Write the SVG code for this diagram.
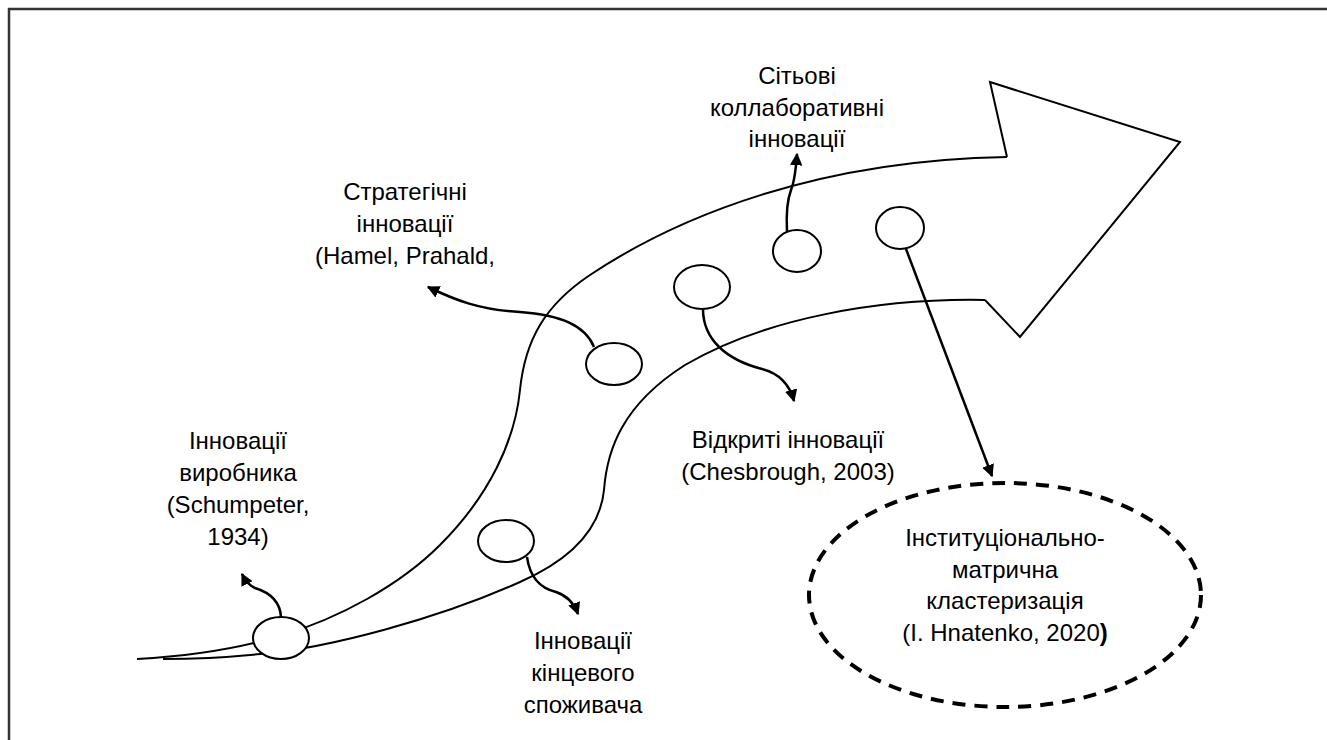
<svg xmlns="http://www.w3.org/2000/svg" width="1327" height="740" viewBox="0 0 1327 740">
<defs>
<marker id="ah" viewBox="0 0 10 10" refX="9" refY="5" markerWidth="5" markerHeight="5" orient="auto" markerUnits="strokeWidth">
<path d="M0,0 L10,5 L0,10 z" fill="#000"/>
</marker>
<style>
.t{font-family:"Liberation Sans",Arial,sans-serif;font-size:24px;fill:#000;text-anchor:middle}
.ln{fill:none;stroke:#000;stroke-width:2}
.cn{fill:none;stroke:#000;stroke-width:2.5;marker-end:url(#ah)}
.nd{fill:#fff;stroke:#000;stroke-width:2}
</style>
</defs>
<rect width="1327" height="740" fill="#fff"/>
<rect x="9" y="9" width="1330" height="745" fill="none" stroke="#333" stroke-width="2.5"/>
<g id="big-arrow">
<path class="ln" d="M137,659 C190,656 240,648 280,636 C340,618 400,585 440,545 C490,495 515,440 520,390 C525,340 545,305 590,275 C680,215 820,160 1007,157"/>
<polyline class="ln" points="1007,157 990,82 1180,142 1020,337 985,300"/>
<path class="ln" d="M985,300 C880,298 765,318 685,365 C622,405 607,450 604,490 C600,530 570,560 520,582 C440,618 330,648 260,654 C220,658 190,659 163,659"/>
</g>
<g id="connectors">
<path class="cn" d="M281,617 C280,600 268,592 255,588 C248,585 245,580 242,574"/>
<path class="cn" d="M594,347 C585,325 560,315 520,312 C480,310 455,300 428,287"/>
<path class="cn" d="M703,309 C703,340 727,360 762,369 C781,374 790,386 794,401"/>
<path class="cn" d="M787,231 C786,212 788,198 791,190 C795,180 796,168 797,154"/>
<path class="cn" d="M906,249 L992,476"/>
<path class="cn" d="M527,557 C530,578 540,588 556,592 C568,596 574,603 578,614"/>
</g>
<g id="n-schumpeter">
<ellipse class="nd" cx="281" cy="638" rx="28" ry="21"/>
<text class="t" x="238" y="449">Інновації</text>
<text class="t" x="238" y="481">виробника</text>
<text class="t" x="238" y="513">(Schumpeter,</text>
<text class="t" x="238" y="545">1934)</text>
</g>
<g id="n-strategic">
<ellipse class="nd" cx="614" cy="364" rx="28" ry="21"/>
<text class="t" x="405" y="200">Стратегічні</text>
<text class="t" x="405" y="232">інновації</text>
<text class="t" x="405" y="264">(Hamel, Prahald,</text>
</g>
<g id="n-open">
<ellipse class="nd" cx="702" cy="287" rx="28" ry="22"/>
<text class="t" x="788" y="448">Відкриті інновації</text>
<text class="t" x="788" y="480">(Chesbrough, 2003)</text>
</g>
<g id="n-network">
<ellipse class="nd" cx="797" cy="251" rx="24" ry="21"/>
<text class="t" x="797" y="84">Сітьові</text>
<text class="t" x="797" y="116">коллаборативні</text>
<text class="t" x="797" y="147">інновації</text>
</g>
<g id="n-institutional">
<ellipse class="nd" cx="900" cy="228" rx="24" ry="21"/>
</g>
<g id="n-consumer">
<ellipse class="nd" cx="506" cy="541" rx="28" ry="21"/>
<text class="t" x="583" y="649">Інновації</text>
<text class="t" x="583" y="681">кінцевого</text>
<text class="t" x="583" y="713">споживача</text>
</g>
<g id="n-cluster">
<ellipse cx="1005" cy="595" rx="196" ry="112" fill="none" stroke="#000" stroke-width="4" stroke-dasharray="13,9"/>
<text class="t" x="1005" y="546">Інституціонально-</text>
<text class="t" x="1005" y="578">матрична</text>
<text class="t" x="1005" y="609">кластеризація</text>
<text class="t" x="1005" y="641">(I. Hnatenko, 2020<tspan font-weight="bold">)</tspan></text>
</g>
</svg>
